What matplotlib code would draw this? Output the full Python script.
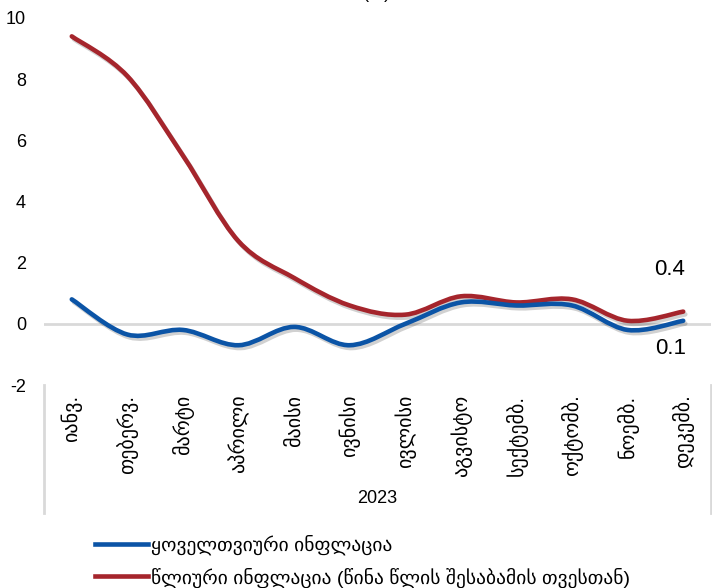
import numpy as np
import matplotlib
matplotlib.use('Agg')
import matplotlib.pyplot as plt
import matplotlib.patheffects as pe
from matplotlib.path import Path
from matplotlib.patches import PathPatch
from matplotlib.lines import Line2D

plt.rcParams['font.family'] = ['Liberation Sans', 'DejaVu Sans']
plt.rcParams['axes.unicode_minus'] = False

months = ['იანვ.', 'თებერვ.', 'მარტი', 'აპრილი', 'მაისი', 'ივნისი',
          'ივლისი', 'აგვისტო', 'სექტემბ.', 'ოქტომბ.', 'ნოემბ.', 'დეკემბ.']
monthly = [0.8, -0.35, -0.2, -0.7, -0.1, -0.7, 0.0, 0.7, 0.6, 0.6, -0.2, 0.1]
annual = [9.4, 8.1, 5.5, 2.7, 1.5, 0.6, 0.3, 0.9, 0.7, 0.8, 0.1, 0.4]
year_label = '2023'
monthly_name = 'ყოველთვიური ინფლაცია'
annual_name = 'წლიური ინფლაცია (წინა წლის შესაბამის თვესთან)'

blue = '#0b54a6'
red = '#a5252c'
grey = '#d9d9d9'


def smooth_path(xs, ys):
    # Excel-style smoothed line as cubic bezier segments
    pts = np.column_stack([xs, ys]).astype(float)
    ext = np.vstack([pts[0], pts, pts[-1]])
    verts = [pts[0]]
    codes = [Path.MOVETO]
    for i in range(len(pts) - 1):
        p0, p1, p2, p3 = ext[i], ext[i + 1], ext[i + 2], ext[i + 3]
        verts += [p1 + (p2 - p0) / 6, p2 - (p3 - p1) / 6, p2]
        codes += [Path.CURVE4] * 3
    return Path(verts, codes)


fig = plt.figure(figsize=(7.12, 5.88), dpi=100)
ax = fig.add_axes([44 / 712, 1 - 385 / 588, 667 / 712, 367 / 588])

x = np.arange(len(months))
ax.axhline(0, color=grey, lw=2, zorder=1)

shadow = [pe.SimpleLineShadow(offset=(1.5, -2), shadow_color='k', alpha=0.18),
          pe.Normal()]
for vals, col in [(annual, red), (monthly, blue)]:
    patch = PathPatch(smooth_path(x, vals), fill=False, edgecolor=col, lw=3.3,
                      capstyle='round', zorder=3)
    patch.set_path_effects(shadow)
    ax.add_patch(patch)

ax.set_xlim(-0.5, len(months) - 0.5)
ax.set_ylim(-2, 10)
ax.set_yticks(range(-2, 11, 2))
ax.set_xticks(x)
ax.set_xticklabels(months, rotation=90, va='top', ha='center')
ax.tick_params(axis='x', length=0, pad=7, labelsize=14.5)
ax.tick_params(axis='y', length=0, pad=13, labelsize=13)
for s in ax.spines.values():
    s.set_visible(False)

# category group borders and year label
for xx in (0, 1):
    ax.add_line(Line2D([xx, xx], [0, -0.35], transform=ax.transAxes,
                       color=grey, lw=2, clip_on=False))
ax.text(0.5, -0.31, year_label, transform=ax.transAxes, ha='center',
        va='center', fontsize=13)

# data labels for the last month
ax.annotate(f'{annual[-1]:.1f}', (x[-1], annual[-1]), xytext=(-14, 42),
            textcoords='offset pixels', ha='center', va='center', fontsize=16)
ax.annotate(f'{monthly[-1]:.1f}', (x[-1], monthly[-1]), xytext=(-13, -28),
            textcoords='offset pixels', ha='center', va='center', fontsize=16)

fig.text(377 / 712, 0.997, '(%)', ha='center', va='bottom', fontsize=13)

handles = [Line2D([], [], color=blue, lw=3.3), Line2D([], [], color=red, lw=3.3)]
fig.legend(handles, [monthly_name, annual_name], loc='upper left',
           bbox_to_anchor=(95 / 712, 1 - 535 / 588), frameon=False,
           borderaxespad=0, borderpad=0,
           fontsize=14, handlelength=2.7, handletextpad=0.2, labelspacing=0.6)

fig.savefig('out.png', dpi=100)
